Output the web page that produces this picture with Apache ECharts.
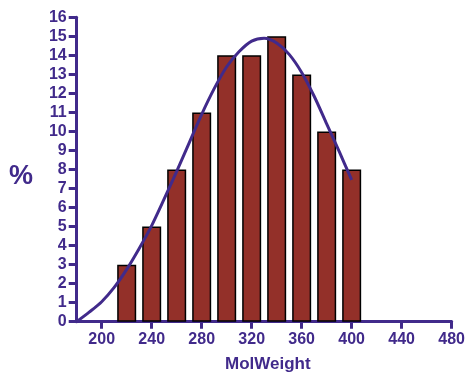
<!DOCTYPE html>
<html>
<head>
<meta charset="utf-8">
<script src="https://cdn.jsdelivr.net/npm/echarts@6/dist/echarts.min.js"></script>
<style>
html,body{margin:0;padding:0;background:#fff}
#Chart{width:468px;height:376px}
</style>
</head>
<body>
<div id="Chart"></div>
<script>
// histogram bars (bin centre, %)
var binX=[220,240,260,280,300,320,340,360,380,400]
var binY=[3,5,8,11,14,14,15,13,10,8]
// fitted curve
var curveX=[180,190,200,210,220,230,240,250,260,270,280,290,300,310,320,330,340,350,360,370,380,390,400]
var curveY=[0,0.5,1.05,1.8,2.75,3.85,5.05,6.45,7.9,9.4,10.9,12.25,13.4,14.2,14.75,14.9,14.65,14.05,13.1,11.85,10.4,8.95,7.45]
var xTicks=[200,240,280,320,360,400,440,480]

var purple="#412a8b"
var font="'Liberation Sans',Arial,sans-serif"

function drawChar(){
	var myChart=echarts.init(document.getElementById('Chart'))
	var bars=[],line=[]
	$each(binX,function(i,v){ bars.push([v,binY[i]]) })
	$each(curveX,function(i,v){ line.push([v,curveY[i]]) })

	var option={
		animation:false,
		grid:{left:76.7,right:16.3,top:17.3,bottom:54.3},
		xAxis:{
			type:'value',min:180,max:480,
			axisLine:{show:true,onZero:false,lineStyle:{color:purple,width:3}},
			axisTick:{show:true,length:7,customValues:xTicks,lineStyle:{color:purple,width:3}},
			axisLabel:{customValues:xTicks,color:purple,fontFamily:font,fontWeight:'bold',fontSize:16,margin:10},
			splitLine:{show:false}
		},
		yAxis:{
			type:'value',min:0,max:16,interval:1,
			axisLine:{show:true,lineStyle:{color:purple,width:3}},
			axisTick:{show:true,inside:false,length:8,lineStyle:{color:purple,width:3}},
			axisLabel:{color:purple,fontFamily:font,fontWeight:'bold',fontSize:16,margin:10},
			splitLine:{show:false}
		},
		graphic:[
			{type:'text',left:9,top:163,style:{text:'%',fill:purple,font:'bold 27px '+font}},
			{type:'text',left:225,top:356,style:{text:'MolWeight',fill:purple,font:'bold 17px '+font}}
		],
		series:[
			{
				type:'bar',data:bars,barWidth:19,z:1,
				itemStyle:{color:'#933029',borderColor:'#000',borderWidth:1.5}
			},
			{
				type:'line',data:line,smooth:0.3,showSymbol:false,z:3,
				lineStyle:{color:purple,width:3}
			}
		]
	}
	myChart.setOption(option)
}

function $each(arr,fn){ for(var i=0;i<arr.length;i++) fn(i,arr[i]) }

drawChar()
</script>
</body>
</html>
